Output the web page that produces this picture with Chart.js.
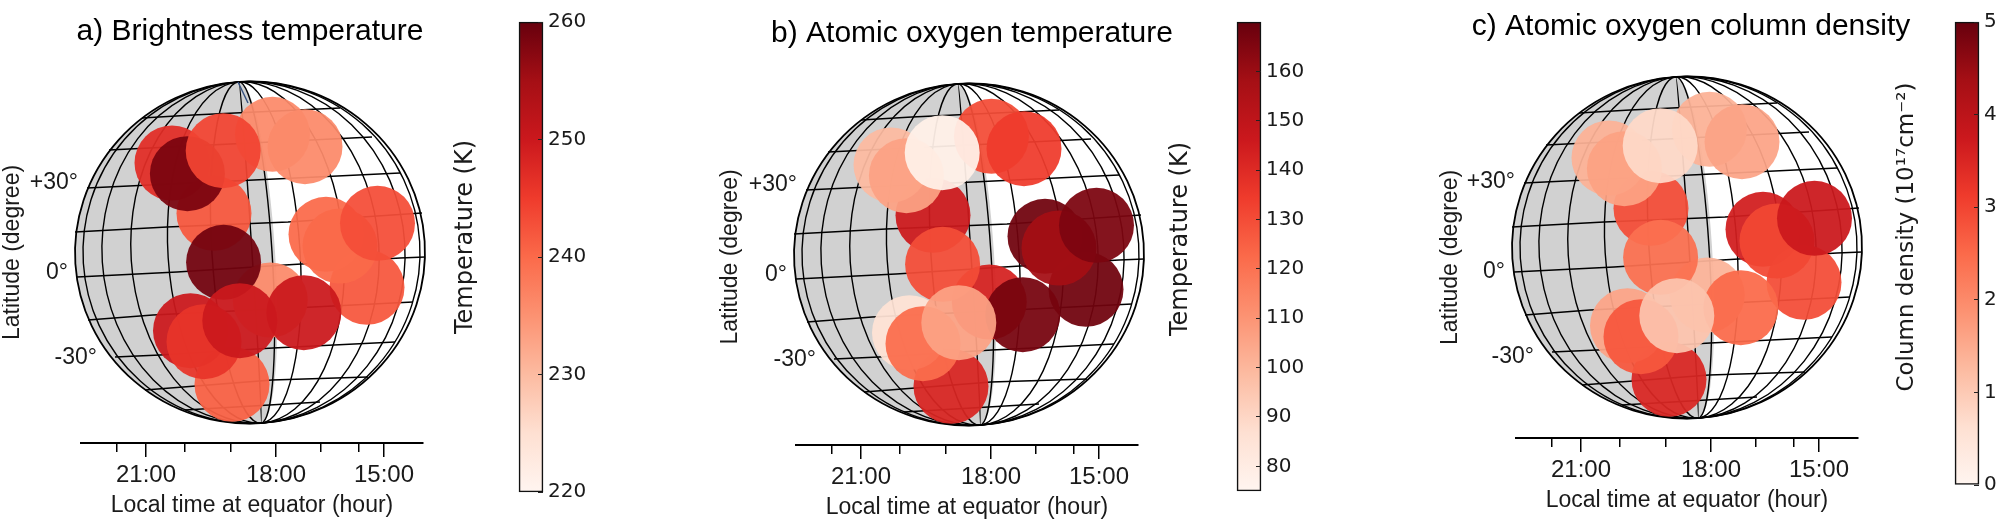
<!DOCTYPE html>
<html>
<head>
<meta charset="utf-8">
<script src="https://cdn.jsdelivr.net/npm/chart.js@4"></script>
<style>
  html, body { margin: 0; background: #fff; overflow: hidden; width: 2000px; height: 520px; }
  canvas { position: absolute; }
</style>
</head>
<body>
<script>
// Observation spots, in draw order (bottom one first)
const spotX = [-18, 117, 76, 90, 127.5, 20.3, 53.8, -36, -26.4, -59.5, -46, -10.2, 22.5, 55, -78, -62.6, -26.8];
const spotY = [-131.8, -34.8, 18.2, 6.5, 29.2, -47.5, -60.2, 39.2, -9.8, -78.2, -89.2, -68.2, 118.2, 105.8, 89.5, 78.8, 101.8];

const brightnessTemp = [241, 242, 240, 240, 243, 236, 250, 242, 259, 250, 246, 250, 236, 236, 247, 258.5, 244];
const oxygenTemp = [142, 168, 168, 158, 166, 143, 167, 146, 130, 86, 122, 106, 130, 134, 99, 106, 78];
const columnDensity = [3.5, 2.9, 3.65, 2.95, 3.75, 1.35, 2.5, 2.9, 2.4, 1.6, 2.75, 1.1, 1.4, 1.6, 1.4, 1.65, 0.75];

const tempTicksA = [220, 230, 240, 250, 260];
const tempTicksB = [80, 90, 100, 110, 120, 130, 140, 150, 160];
const densityTicks = [0, 1, 2, 3, 4, 5];

// Local time axis
const timeTicks = [-106, 24, 132];
const timeLabels = ["21:00", "18:00", "15:00"];
const timeMinorTicks = [-135, -67, -21, 69, 107];

// Latitude labels
const latTicks = [70, -20, -105];
const latLabels = ["+30°", "0°", "-30°"];
const latLabelEdge = [-172, -182, -153];

// Globe grid
const meridians = [-167, -148, -119, -82, -38, 2, 22, 50, 94, 129, 155, 170];
const terminator = 25;
const parallels = [
  [[-108, 134.5], [-57, 137.5], [90, 144.5]],
  [[-141, 102.5], [122, 115.5]],
  [[-163, 64.5], [150, 79.5]],
  [[-175, 20.5], [-83, 25.5], [38, 30.5], [172, 39.5]],
  [[-173, -24.5], [-73, -19.5], [35, -12.5], [150, -5.5], [175, -4.5]],
  [[-162, -67.5], [-97, -62.5], [163, -49.5]],
  [[-135, -104.5], [-90, -102.5], [23, -95.5], [145, -89.5]],
  [[-105, -137.5], [22, -127.5], [118, -124.5]],
  [[-65, -157.5], [70, -149.5]],
];
const poleStreak = [[-12, 170.5], [-2, 149.5]];

// matplotlib Reds
const redsStops = ["#fff5f0", "#fee0d2", "#fcbba1", "#fc9272", "#fb6a4a", "#ef3b2c", "#cb181d", "#a50f15", "#67000d"];

function redsColor(t, alpha) {
  const pos = Math.min(Math.max(t, 0), 1) * (redsStops.length - 1);
  const i = Math.min(Math.floor(pos), redsStops.length - 2);
  const hex = (s) => [1, 3, 5].map((k) => parseInt(s.substr(k, 2), 16));
  const a = hex(redsStops[i]);
  const b = hex(redsStops[i + 1]);
  const c = a.map((v, k) => Math.round(v + (b[k] - v) * (pos - i)));
  return `rgba(${c[0]},${c[1]},${c[2]},${alpha})`;
}

const sans = "'Liberation Sans', Arial, sans-serif";
const dejavu = "'DejaVu Sans', sans-serif";
const ink = "#1a1a1a";

// Grey night side and meridians, drawn under the datasets
const globeFrame = {
  id: "globeFrame",
  beforeDatasetsDraw(chart) {
    const { ctx, scales } = chart;
    const cx = scales.x.getPixelForValue(0);
    const cy = scales.y.getPixelForValue(0);
    const rx = scales.x.getPixelForValue(175) - cx;
    const ry = cy - scales.y.getPixelForValue(171);
    const tilt = (-3.7 * Math.PI) / 180;
    const half = Math.PI / 2;

    ctx.save();
    ctx.beginPath();
    ctx.ellipse(cx, cy, scales.x.getPixelForValue(terminator) - cx, ry, tilt, -half, half);
    ctx.ellipse(cx, cy, rx, ry, tilt, half, 3 * half);
    ctx.closePath();
    ctx.fillStyle = "#d1d1d1";
    ctx.fill();

    ctx.strokeStyle = "#000";
    ctx.lineWidth = 1.4;
    meridians.forEach((m) => {
      const w = Math.abs(scales.x.getPixelForValue(m) - cx);
      ctx.beginPath();
      if (m < 0) ctx.ellipse(cx, cy, w, ry, tilt, half, 3 * half);
      else ctx.ellipse(cx, cy, w, ry, tilt, -half, half);
      ctx.stroke();
    });
    ctx.lineWidth = 1.8;
    ctx.beginPath();
    ctx.ellipse(cx, cy, rx, ry, tilt, 0, Math.PI * 2);
    ctx.stroke();
    ctx.restore();
  },
};

// Latitude labels hug the limb, so each has its own x. The built in title
// gets squeezed to the chart area, so the panel title is drawn here as well.
const globeText = {
  id: "globeText",
  afterDraw(chart) {
    const { ctx, scales } = chart;
    const opts = chart.options.plugins.globeText;
    ctx.save();
    ctx.font = `23px ${sans}`;
    ctx.fillStyle = ink;
    ctx.textAlign = "right";
    ctx.textBaseline = "middle";
    latLabels.forEach((label, i) => {
      ctx.fillText(label, scales.x.getPixelForValue(latLabelEdge[i]), scales.y.getPixelForValue(latTicks[i] - opts.latShift));
    });
    ctx.font = `${opts.titleSize}px ${sans}`;
    ctx.fillStyle = "#000";
    ctx.textAlign = "center";
    ctx.fillText(opts.title, chart.width / 2 + opts.titleShift, 32);
    ctx.restore();
  },
};

// Colour bar title sits off centre from the bar
const barTitle = {
  id: "barTitle",
  afterDraw(chart) {
    const opts = chart.options.plugins.barTitle;
    const { ctx } = chart;
    ctx.save();
    ctx.translate(opts.x, opts.y);
    ctx.rotate(-Math.PI / 2);
    ctx.font = `${opts.size}px ${dejavu}`;
    ctx.fillStyle = ink;
    ctx.textAlign = "center";
    ctx.textBaseline = "middle";
    ctx.fillText(opts.text, 0, 0);
    ctx.restore();
  },
};

function addCanvas(left, top, width, height) {
  const canvas = document.createElement("canvas");
  canvas.width = width;
  canvas.height = height;
  canvas.style.left = left + "px";
  canvas.style.top = top + "px";
  document.body.appendChild(canvas);
  return canvas;
}

function makeGlobe(panel) {
  const lineSets = parallels.map((line) => ({
    data: line.map((p) => ({ x: p[0], y: p[1] })),
    showLine: true,
    borderColor: "#000",
    borderWidth: 1.6,
    pointRadius: 0,
    clip: false,
    order: 1,
  }));
  if (panel.streak) {
    lineSets.push({
      data: poleStreak.map((p) => ({ x: p[0], y: p[1] })),
      showLine: true,
      borderColor: "#34507f",
      borderWidth: 1.4,
      pointRadius: 0,
      clip: false,
      order: 1,
    });
  }
  const spots = {
    data: spotX.map((x, i) => ({ x, y: spotY[i] })),
    pointRadius: 37.5,
    pointBorderWidth: 0,
    pointBackgroundColor: panel.values.map((v) => redsColor((v - panel.min) / (panel.max - panel.min), 0.94)),
    clip: false,
    order: 0,
  };

  new Chart(addCanvas(panel.left, panel.top, 500, 520), {
    type: "scatter",
    data: { datasets: [spots, ...lineSets] },
    plugins: [globeFrame, globeText],
    options: {
      responsive: false,
      animation: false,
      events: [],
      devicePixelRatio: 1,
      // a longer y range moves the latitude title down without moving the globe
      layout: { padding: { left: panel.latPad, right: 79, top: 60, bottom: 75 - panel.extra } },
      plugins: {
        legend: { display: false },
        tooltip: { enabled: false },
        globeText: { title: panel.title, titleSize: 30, titleShift: panel.titleShift, latShift: panel.latShift },
      },
      scales: {
        x: { type: "linear", display: false, min: -171 + panel.shift, max: 171 + panel.shift },
        y: {
          type: "linear",
          position: "left",
          min: -192.5 - panel.extra,
          max: 192.5,
          afterFit: (scale) => { scale.width = 79 - panel.latPad; },
          grid: { display: false },
          border: { display: false },
          ticks: { display: false },
          title: {
            display: true,
            text: "Latitude (degree)",
            color: ink,
            font: { family: sans, size: 23, lineHeight: 0.8 },
            padding: 0,
          },
        },
        xMajor: {
          type: "linear",
          axis: "x",
          min: -171,
          max: 171,
          position: { y: -190.5 },
          afterBuildTicks: (scale) => { scale.ticks = timeTicks.map((value) => ({ value })); },
          border: { color: "#000", width: 2 },
          grid: { drawOnChartArea: false, color: "#000", lineWidth: 1.5, tickLength: 13 },
          ticks: {
            autoSkip: false,
            maxRotation: 0,
            color: ink,
            padding: 5,
            font: { family: sans, size: 24 },
            callback: (value) => timeLabels[timeTicks.indexOf(value)],
          },
          title: {
            display: true,
            text: "Local time at equator (hour)",
            color: ink,
            font: { family: sans, size: 23 },
            padding: { top: -3, bottom: 0 },
          },
        },
        xMinor: {
          type: "linear",
          axis: "x",
          min: -171,
          max: 171,
          position: { y: -190.5 },
          afterBuildTicks: (scale) => { scale.ticks = timeMinorTicks.map((value) => ({ value })); },
          border: { display: false },
          grid: { drawOnChartArea: false, color: "#000", lineWidth: 1.5, tickLength: 9 },
          ticks: { display: false, autoSkip: false },
        },
      },
    },
  });
}

function makeColorbar(bar) {
  const barWidth = 24;
  const axisWidth = 50;
  const leftPad = 4;
  new Chart(addCanvas(bar.left - leftPad, 0, leftPad + barWidth + axisWidth, 520), {
    type: "bar",
    data: {
      labels: [""],
      datasets: [{
        data: [[bar.min, bar.max]],
        barPercentage: 1,
        categoryPercentage: 1,
        borderColor: "#111",
        borderWidth: 1.6,
        borderSkipped: false,
        clip: false,
        backgroundColor: (context) => {
          const area = context.chart.chartArea;
          if (!area) return redsStops[4];
          const g = context.chart.ctx.createLinearGradient(0, area.bottom, 0, area.top);
          redsStops.forEach((c, i) => g.addColorStop(i / (redsStops.length - 1), c));
          return g;
        },
      }],
    },
    options: {
      responsive: false,
      animation: false,
      events: [],
      devicePixelRatio: 1,
      layout: { padding: { left: leftPad, top: bar.top, bottom: 520 - bar.bottom } },
      plugins: { legend: { display: false }, tooltip: { enabled: false } },
      scales: {
        x: { display: false },
        y: {
          position: "right",
          min: bar.min,
          max: bar.max,
          afterFit: (scale) => { scale.width = axisWidth; },
          afterBuildTicks: (scale) => { scale.ticks = bar.ticks.map((value) => ({ value })); },
          border: { display: false },
          grid: { drawOnChartArea: false, color: "#222", lineWidth: 1, tickLength: -5, z: 2 },
          ticks: { color: ink, padding: 10, font: { family: dejavu, size: 20 }, autoSkip: false },
        },
      },
    },
  });
  // title lives outside the narrow bar canvas
  new Chart(addCanvas(bar.titleX - 20, 0, 40, 520), {
    type: "bar",
    data: { labels: [], datasets: [] },
    plugins: [barTitle],
    options: {
      responsive: false,
      animation: false,
      events: [],
      devicePixelRatio: 1,
      plugins: {
        legend: { display: false },
        tooltip: { enabled: false },
        barTitle: { text: bar.title, x: 20, y: bar.titleY, size: bar.titleSize },
      },
      scales: { x: { display: false }, y: { display: false } },
    },
  });
}

makeGlobe({ left: 2, top: 0, shift: 2, min: 220, max: 260, values: brightnessTemp, streak: true, title: "a) Brightness temperature", titleShift: -2, latPad: 1, extra: 0, latShift: 0 });
makeGlobe({ left: 717, top: 2, shift: -2, min: 75, max: 170, values: oxygenTemp, title: "b) Atomic oxygen temperature", titleShift: 5, latPad: 4, extra: 5, latShift: 0 });
makeGlobe({ left: 1437, top: -5, shift: 0, min: 0, max: 5, values: columnDensity, title: "c) Atomic oxygen column density", titleShift: 4, latPad: 4, extra: 20, latShift: 4 });

makeColorbar({ left: 519, top: 15, bottom: 492, min: 220, max: 260, ticks: tempTicksA, title: "Temperature (K)", titleX: 466, titleY: 237, titleSize: 24 });
makeColorbar({ left: 1237, top: 16, bottom: 491, min: 75, max: 170, ticks: tempTicksB, title: "Temperature (K)", titleX: 1181, titleY: 239, titleSize: 24 });
makeColorbar({ left: 1955, top: 9, bottom: 485, min: 0, max: 5, ticks: densityTicks, title: "Column density (10¹⁷cm⁻²)", titleX: 1907, titleY: 237, titleSize: 23 });
</script>
</body>
</html>
